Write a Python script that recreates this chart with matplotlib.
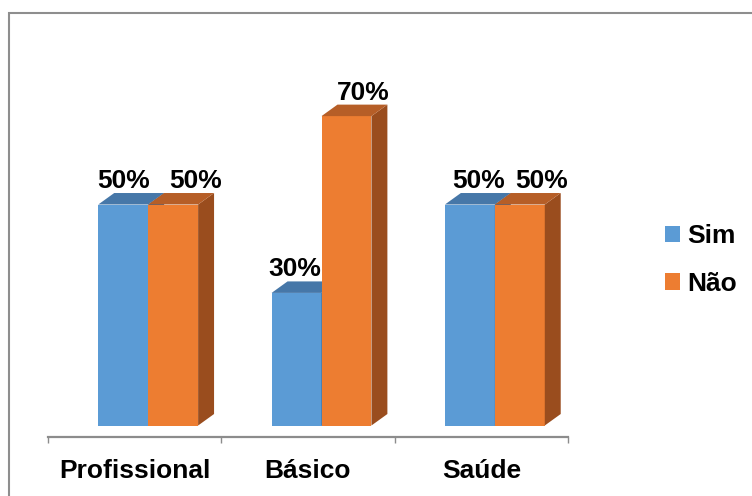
import matplotlib.pyplot as plt
from matplotlib.patches import Patch, Polygon, Rectangle

categories = ["Profissional", "Básico", "Saúde"]
series_names = ["Sim", "Não"]
sim_values = [0.50, 0.30, 0.50]
nao_values = [0.50, 0.70, 0.50]

plt.rcParams["font.family"] = ["Liberation Sans", "DejaVu Sans"]

FRONT = {"Sim": "#5B9BD5", "Não": "#ED7D31"}
TOP = {"Sim": "#4677A8", "Não": "#B65E27"}
SIDE = {"Sim": "#3A6591", "Não": "#9A4D1E"}
AXIS_GREY = "#8C8C8C"

# bar geometry in data units (one category = 1.0 on x)
BAR_W = 0.288
SHIFT = 0.078
DEPTH_X = 0.092
DEPTH_Y = 0.026
# horizontal nudges of the value labels, in pixels
LABEL_NUDGE = {"Sim": [0, -1.5, 8.5], "Não": [22, 16.5, 21.5]}
FS = 19

W, H = 752, 496
Y_TOP = 0.85
PX_PER_Y = 442.0

fig = plt.figure(figsize=(W / 100, H / 100), dpi=100)
axes_h = (Y_TOP + DEPTH_Y) * PX_PER_Y
ax = fig.add_axes([48 / W, (H - 437) / H, 520 / W, axes_h / H])
ax.set_xlim(-0.5, len(categories) - 0.5)
ax.set_ylim(-DEPTH_Y, Y_TOP)


def draw_bar(x0, value, name, z):
    x1 = x0 + BAR_W
    ax.bar(x0, value, width=BAR_W, align="edge", color=FRONT[name],
           linewidth=0, zorder=z)
    top = Polygon(
        [(x0, value), (x1, value), (x1 + DEPTH_X, value + DEPTH_Y),
         (x0 + DEPTH_X, value + DEPTH_Y)],
        closed=True, facecolor=TOP[name], edgecolor="none", zorder=z,
    )
    side = Polygon(
        [(x1, 0), (x1 + DEPTH_X, DEPTH_Y), (x1 + DEPTH_X, value + DEPTH_Y),
         (x1, value)],
        closed=True, facecolor=SIDE[name], edgecolor="none", zorder=z,
    )
    ax.add_patch(side)
    ax.add_patch(top)


series = {"Sim": sim_values, "Não": nao_values}
for i in range(len(categories)):
    for k, name in enumerate(series_names):
        value = series[name][i]
        x0 = i + SHIFT - BAR_W + k * BAR_W
        draw_bar(x0, value, name, 2 + k)
        ax.annotate(
            f"{value:.0%}",
            xy=(x0 + BAR_W / 2, value + DEPTH_Y),
            xytext=(LABEL_NUDGE[name][i], 5),
            textcoords="offset pixels",
            ha="center", va="baseline",
            fontsize=FS, fontweight="bold", color="black", zorder=10,
        )

for side in ["top", "right", "left"]:
    ax.spines[side].set_visible(False)
ax.spines["bottom"].set_color(AXIS_GREY)
ax.spines["bottom"].set_linewidth(1.6)
ax.set_yticks([])
ax.set_xticks([i - 0.5 for i in range(len(categories) + 1)])
ax.set_xticklabels([])
ax.tick_params(axis="x", which="major", length=4.5, width=1.0,
               color=AXIS_GREY, direction="out")
ax.set_xticks(range(len(categories)), minor=True)
ax.set_xticklabels(categories, minor=True, fontsize=FS, fontweight="bold")
ax.tick_params(axis="x", which="minor", length=0, pad=16)

handles = [Patch(facecolor=FRONT[n], edgecolor="none") for n in series_names]
fig.legend(
    handles, series_names,
    loc="center left", bbox_to_anchor=(665 / W, 1 - 260 / H),
    frameon=False, borderpad=0, borderaxespad=0,
    handlelength=0.57, handleheight=0.57, handletextpad=0.27,
    labelspacing=0.9,
    prop={"size": FS, "weight": "bold"},
)

fig.add_artist(Rectangle(
    (8.5 / W, -0.1), 1.2, 1 - 12.5 / H + 0.1,
    transform=fig.transFigure, fill=False, edgecolor="#8E8E8E", linewidth=1.5,
))

fig.savefig("out.png", dpi=100, facecolor="white")
